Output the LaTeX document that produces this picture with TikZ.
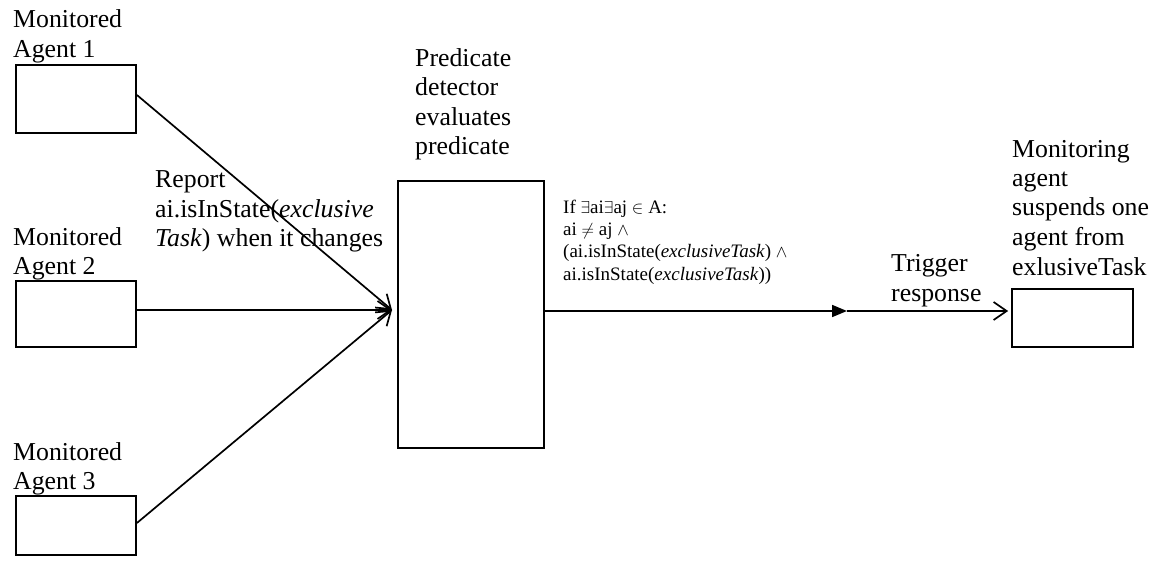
\documentclass[tikz,border=0pt]{standalone}
\usepackage{fontspec}
\setmainfont{Liberation Serif}
\usetikzlibrary{arrows.meta}
\begin{document}
\begin{tikzpicture}[x=1pt,y=-1pt,
  box/.style={draw,line width=1.8pt,inner sep=0pt},
  lbl/.style={anchor=base west,inner sep=0pt,align=left,font=\fontsize{25.8}{29.5}\selectfont},
  small/.style={anchor=base west,inner sep=0pt,align=left,font=\fontsize{19}{22.3}\selectfont},
  conn/.style={line width=1.7pt},
  barb/.style={-{Straight Barb[length=13pt,width=18pt,line width=1.7pt]}},
  tri/.style={-{Triangle[length=15pt,width=12pt]}}]
\useasboundingbox (0,0) rectangle (1159,564);
% boxes
\node[box,minimum width=120pt,minimum height=68pt] (m1) at (76,99) {};
\node[box,minimum width=120pt,minimum height=66pt] (m2) at (76,314) {};
\node[box,minimum width=120pt,minimum height=59pt] (m3) at (76,525.5) {};
\node[box,minimum width=146pt,minimum height=267pt] (pred) at (471,314.5) {};
\node[box,minimum width=121pt,minimum height=58pt] (resp) at (1072.5,318) {};
\coordinate (conv) at (392,310);
\coordinate (mid) at (847,311);
% labels (anchored at the baseline of their last line)
\node[lbl] (t1) at (13,57.5) {Monitored\\Agent 1};
\node[lbl] (t2) at (13,274.5) {Monitored\\Agent 2};
\node[lbl] (t3) at (13,489.5) {Monitored\\Agent 3};
\node[lbl] (rep) at (155,247) {Report\\ai.isInState(\textit{exclusive}\\\textit{Task}) when it changes};
\node[lbl] (pt) at (415,155) {Predicate\\detector\\evaluates\\predicate};
\node[small] (cond) at (563,280) {If $\exists$ai$\exists$aj $\in$ A:\\ai $\neq$ aj $\wedge$\\(ai.isInState(\textit{exclusiveTask}) $\wedge$\\ai.isInState(\textit{exclusiveTask}))};
\node[lbl] (mt) at (1012,275) {Monitoring\\agent\\suspends one\\agent from\\exlusiveTask};
\node[lbl] (trig) at (891,301) {Trigger\\response};
% connectors
\draw[conn,barb] ([yshift=4pt]m1.east) -- (conv);
\draw[conn,barb] (m2.east |- conv) -- (conv);
\draw[conn,barb] ([yshift=2.5pt]m3.east) -- (conv);
\draw[conn,tri] ([xshift=-2pt]pred.east |- mid) -- (mid);
\draw[conn,barb] (mid) -- ([xshift=-3pt]resp.west |- mid);
\end{tikzpicture}
\end{document}
